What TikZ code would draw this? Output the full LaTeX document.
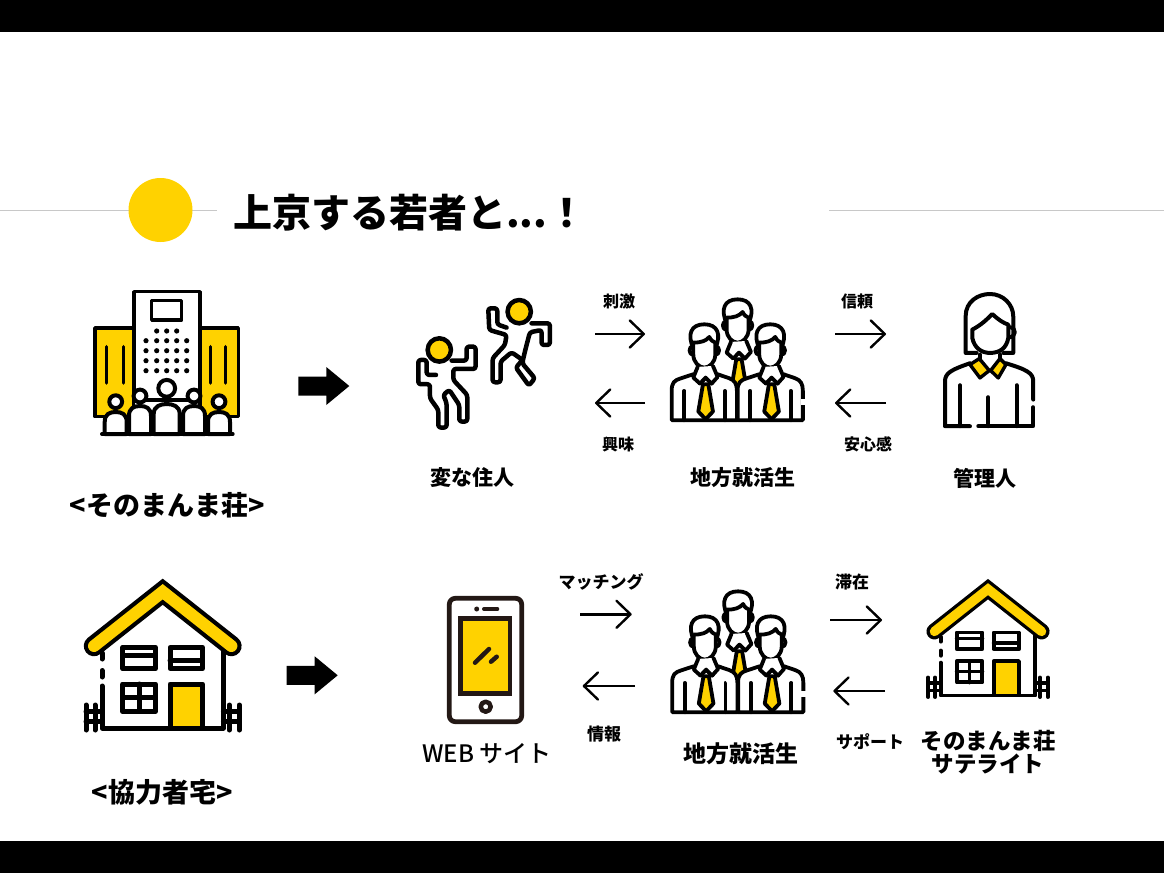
\documentclass[tikz,border=0pt]{standalone}
\usepackage{fontspec}
\usepackage[svgnames]{xcolor}
\setmainfont{Noto Sans CJK JP}
\newfontfamily\mediumjp{Noto Sans CJK JP Medium}
\usetikzlibrary{arrows.meta}
\definecolor{sunny}{HTML}{FFD200}
\definecolor{inkbrown}{HTML}{231815}
\definecolor{rule}{HTML}{C8C8C8}
\tikzset{
  tiny label/.style={font=\bfseries\fontsize{#1}{#1}\selectfont, inner sep=0pt},
  thin arrow/.style={line width=2.4pt, -{Straight Barb[length=14pt,width=27pt,round]}},
  icon/.style={line width=4pt, line cap=round, line join=round},
  pics/bigarrow/.style={code={
    \fill[black] (0,-9.5) -- (28,-9.5) -- (28,-19) -- (51,0) -- (28,19) -- (28,9.5) -- (0,9.5) -- cycle;
  }},
  pics/house/.style={code={
    \begin{scope}[scale=#1, line width={5pt*#1}, line cap=round, line join=round]
      % walls
      \fill[white] (-60.7,60) -- (0,15) -- (60.7,60) -- (60.7,148) -- (-60.7,148) -- cycle;
      \draw (-60.7,73) -- (-60.7,79) (-60.7,90.5) -- (-60.7,97) (-60.7,106) -- (-60.7,148) -- (60.7,148) -- (60.7,66);
      % fence
      \foreach \fx in {-76.7,-67.7,66.7,76.7} \draw (\fx,125) -- (\fx,150);
      \draw (-76.7,131.7) -- (-60.7,131.7) (-76.7,141.7) -- (-60.7,141.7);
      \draw (60.7,131.7) -- (76.7,131.7) (60.7,141.7) -- (76.7,141.7);
      % windows and door
      \draw (-40,67.3) rectangle (-7.3,88.7) (-40,75) -- (-7.3,75);
      \draw (7.3,67.3) rectangle (39.7,88.7) (7.3,80.7) -- (39.7,80.7);
      \draw (-40,104) rectangle (-7.3,131.3) (-23.7,104) -- (-23.7,131.3) (-40,117.3) -- (-7.3,117.3);
      \draw[fill=sunny] (7.3,104) rectangle (39.7,148);
      % roof
      \draw[line width={20.5pt*#1}, miter limit=10, line join=miter] (-68.7,66) -- (0,11.7) -- (68.7,66);
      \draw[sunny, line width={12pt*#1}, miter limit=10, line join=miter] (-68.7,66) -- (0,11.7) -- (68.7,66);
    \end{scope}
  }},
  pics/suithead/.style={code={
    \draw (-33,66) .. controls (-48,64) and (-48,92) .. (-33,92);
    \draw (33,66) .. controls (48,64) and (48,92) .. (33,92);
    \filldraw[fill=white] (-33,72) .. controls (-52,30) and (-40,0) .. (0,0) .. controls (40,0) and (52,30) .. (33,72) -- cycle;
    \filldraw[fill=white] (-33,55) -- (-33,90) .. controls (-33,115) and (-15,130) .. (0,130) .. controls (15,130) and (33,115) .. (33,90) -- (33,55) .. controls (25,52) and (20,48) .. (15,38) .. controls (5,50) and (-10,55) .. (-33,55) -- cycle;
    \filldraw[fill=white] (-20,128) -- (-33,160) -- (-13,178) -- (4,160) -- (22,178) -- (40,158) -- (26,125);
    \filldraw[fill=sunny] (-4,180) -- (12,180) -- (26,262) -- (4,285) -- (-18,262) -- cycle;
  }},
  pics/suitbody/.style={code={
    \filldraw[fill=white] (-98,288) -- (-98,200) .. controls (-98,175) and (-90,168) .. (-70,162) -- (-33,150) -- (-13,178) -- (4,160) -- (22,178) -- (40,150) -- (75,162) .. controls (92,168) and (98,180) .. (98,200) -- (98,288) -- cycle;
    \draw (-60,200) -- (-60,288) (62,200) -- (62,288);
  }},
  pics/suits/.style={code={
    \begin{scope}[scale=.333, transform shape, line width=3.8pt, line cap=round, line join=round]
      \pic at (218,22) {suithead};
      \pic at (118,97) {suitbody};
      \pic at (118,97) {suithead};
      \pic at (316,97) {suitbody};
      \pic at (316,97) {suithead};
      \draw[white, line width=4.4pt, line cap=butt] (414,322) -- (414,340);
    \end{scope}
  }}
}
\begin{document}
\begin{tikzpicture}[x=1pt, y=-1pt]
	\useasboundingbox (0,0) rectangle (1164,873);
	\fill[black] (0,0) rectangle (1164,32);
	\fill[black] (0,841) rectangle (1164,873);

	% heading
	\draw[color=rule, line width=1pt] (0,210.5) -- (217,210.5);
	\draw[color=rule, line width=1pt] (829,210.5) -- (1164,210.5);
	\fill[sunny] (160.5,210) circle (32);
	\node[anchor=west, inner sep=0pt, font=\bfseries\fontsize{39}{40}\selectfont] (title) at (233,213) {上京する若者と...！};

	% apartment block
	\begin{scope}[icon, line width=3.5pt]
		\draw[fill=sunny] (95,328) rectangle (133.5,416.7);
		\draw[fill=sunny] (200,328) rectangle (238.3,416.7);
		\draw[fill=white] (134,291.7) rectangle (200,400);
		\draw (151.7,300.7) rectangle (181.7,320);
		\foreach \bx in {106.7,123.3,210.7,225.7} \draw (\bx,346.7) -- (\bx,383);
		\foreach \bx in {156.7,166.7,176.7} \fill (\bx,331) circle (2.6);
		\foreach \bx in {146,156.7,166.7,176.7,186.7}
			\foreach \by in {340.7,350.7,360.7,370.7} \fill (\bx,\by) circle (2.6);
		% residents, outer pairs first
		\foreach \cx/\hy/\hr/\hw/\ty in {115.7/401.7/6.4/11/414,219/401.7/6.4/11/414,140/396/6.4/11/408,194/396/6.4/11/408,166.7/388.3/8.4/13/406} {
			\filldraw[fill=white, line width=4pt] (\cx-\hw,434) -- (\cx-\hw,\ty+8) .. controls (\cx-\hw,\ty) and (\cx-6,\ty-2) .. (\cx,\ty-2) .. controls (\cx+6,\ty-2) and (\cx+\hw,\ty) .. (\cx+\hw,\ty+8) -- (\cx+\hw,434) -- cycle;
			\filldraw[fill=white, line width=4pt] (\cx,\hy) circle (\hr);
		}
		\draw[line width=4pt] (102,434) -- (232.7,434);
	\end{scope}
	\node[tiny label=27] (block) at (167,505) {<そのまんま荘>};
	\pic at (298.3,386) {bigarrow};

	% two dancing residents
	\begin{scope}[shift={(410,295)}, scale=.333, icon, line width=4.5pt, rounded corners=2.5pt]
		\draw (125,197) -- (170,197) -- (170,155) -- (197,155) -- (197,222) -- (130,222) -- (130,255) -- (172,300) -- (172,380) -- (148,380) -- (148,330) -- (118,285) -- (100,300) -- (110,325) -- (110,398) -- (85,398) -- (85,345) -- (60,310) -- (60,268) -- (25,268) -- (25,195) -- (50,195) -- (50,240) -- (78,240);
		\draw[fill=sunny] (88,165) circle (35);
		\draw (290,98) -- (262,88) -- (262,40) -- (235,40) -- (238,105) -- (290,120) -- (285,150) -- (248,190) -- (248,262) -- (272,262) -- (272,200) -- (305,172) -- (338,195) -- (318,218) -- (357,272) -- (375,250) -- (337,205) -- (345,170) -- (360,112) -- (395,105) -- (395,150) -- (420,150) -- (420,85) -- (365,85);
		\draw[fill=sunny] (328,50) circle (35);
	\end{scope}
	\node[tiny label=21] (dancers) at (472,478) {変な住人};

	% job hunters
	\pic at (665,292) {suits};
	\node[tiny label=21] (hunters) at (743,478) {地方就活生};

	% manager
	\begin{scope}[shift={(935,288)}, scale=.333, icon]
		\draw (125,195) -- (92,195) -- (92,85) .. controls (92,40) and (130,18) .. (165,18) .. controls (205,18) and (235,50) .. (235,85) -- (235,195) -- (205,195);
		\draw (112,125) -- (112,150) .. controls (118,180) and (140,195) .. (165,195) .. controls (195,195) and (215,180) .. (220,150) -- (220,110) .. controls (205,105) and (190,95) .. (172,78) .. controls (155,95) and (140,110) .. (112,125);
		\draw (225,118) .. controls (245,118) and (245,148) .. (222,148);
		\draw[fill=sunny, line width=3.4pt] (105,230) -- (133,212) -- (163,248) -- (135,270) -- cycle;
		\draw[fill=sunny, line width=3.4pt] (213,230) -- (195,212) -- (167,248) -- (190,270) -- cycle;
		\draw (135,200) -- (135,215) (195,200) -- (195,215);
		\draw (105,415) -- (30,415) -- (30,280) .. controls (30,255) and (50,245) .. (105,226);
		\draw (213,226) .. controls (275,245) and (295,255) .. (295,280) -- (295,335);
		\draw (295,358) -- (295,415) -- (130,415);
		\draw (75,292) -- (75,415) (160,328) -- (160,415) (245,292) -- (245,415);
	\end{scope}
	\node[tiny label=21] (manager) at (985,478) {管理人};

	% first row exchanges
	\coordinate (stimL) at (595,334);
	\coordinate (stimR) at (645,334);
	\coordinate (interR) at (645,403);
	\coordinate (interL) at (595,403);
	\coordinate (trustL) at (835,334);
	\coordinate (trustR) at (886,334);
	\coordinate (easeR) at (886,403);
	\coordinate (easeL) at (835,403);
	\draw[thin arrow] (stimL) -- (stimR);
	\draw[thin arrow] (interR) -- (interL);
	\draw[thin arrow] (trustL) -- (trustR);
	\draw[thin arrow] (easeR) -- (easeL);
	\node[tiny label=16] (stim) at (619,301) {刺激};
	\node[tiny label=16] (inter) at (618,444) {興味};
	\node[tiny label=16] (trust) at (857,301) {信頼};
	\node[tiny label=16] (ease) at (868,444) {安心感};

	% second row
	\pic at (162.7,580) {house=1};
	\node[tiny label=27] (helper) at (162,792) {<協力者宅>};
	\pic at (286.7,675.3) {bigarrow};

	% phone
	\begin{scope}[inkbrown, icon]
		\draw[rounded corners=6pt, line width=4.8pt] (449.3,598.3) rectangle (521.7,721.7);
		\draw[fill=sunny, line width=4.8pt, line join=miter] (460.7,618.3) rectangle (510,693.3);
		\draw[line width=4.5pt] (475,662.7) -- (489,649) (491,661.7) -- (496.7,656.7);
		\fill (476.7,609) circle (2.5);
		\draw[line width=4pt] (484,609) -- (497.3,609);
		\draw[line width=4.5pt] (485.7,706.7) circle (5);
	\end{scope}
	\node[inner sep=0pt, font=\mediumjp\fontsize{24}{24}\selectfont] (site) at (487,754) {WEB サイト};

	\pic at (665.5,584) {suits};
	\node[tiny label=23] (hunters2) at (741,754) {地方就活生};

	\pic at (988,580) {house=.78};
	\node[tiny label=22.5] (satellite) at (988,741) {そのまんま荘};
	\node[tiny label=22.5] (satellite2) at (988,764) {サテライト};

	\coordinate (matchL) at (580,614.3);
	\coordinate (matchR) at (631.7,614.3);
	\coordinate (infoR) at (635,686);
	\coordinate (infoL) at (582.7,686);
	\coordinate (stayL) at (830,620);
	\coordinate (stayR) at (882,620);
	\coordinate (careR) at (885,691);
	\coordinate (careL) at (833.3,691);
	\draw[thin arrow] (matchL) -- (matchR);
	\draw[thin arrow] (infoR) -- (infoL);
	\draw[thin arrow] (stayL) -- (stayR);
	\draw[thin arrow] (careR) -- (careL);
	\node[tiny label=17] (match) at (601,582) {マッチング};
	\node[tiny label=17] (info) at (604,734) {情報};
	\node[tiny label=17] (stay) at (852,582) {滞在};
	\node[tiny label=17] (care) at (870,742) {サポート};
\end{tikzpicture}
\end{document}
